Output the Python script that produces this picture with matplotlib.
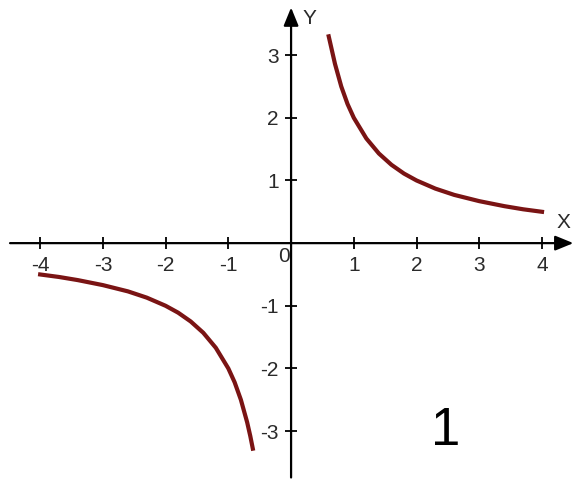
import matplotlib.pyplot as plt

x_right = [0.6, 0.65, 0.7, 0.8, 0.9, 1.0, 1.2, 1.4, 1.6, 1.8, 2.0, 2.3, 2.6, 3.0, 3.4, 3.7, 4.0]
y_right = [3.3, 3.08, 2.86, 2.5, 2.22, 2.0, 1.67, 1.43, 1.25, 1.11, 1.0, 0.87, 0.77, 0.67, 0.59, 0.54, 0.5]
x_left = [-4.0, -3.7, -3.4, -3.0, -2.6, -2.3, -2.0, -1.8, -1.6, -1.4, -1.2, -1.0, -0.9, -0.8, -0.7, -0.65, -0.61]
y_left = [-0.5, -0.54, -0.59, -0.67, -0.77, -0.87, -1.0, -1.11, -1.25, -1.43, -1.67, -2.0, -2.22, -2.5, -2.86, -3.08, -3.28]

x_ticks = [-4, -3, -2, -1, 1, 2, 3, 4]
y_ticks = [-3, -2, -1, 1, 2, 3]

fig = plt.figure(figsize=(5.74, 4.80), dpi=100)
ax = fig.add_axes([0, 0, 1, 1])
ax.set_xlim(-4.64, 4.51)
ax.set_ylim(-3.78, 3.88)
ax.axis('off')

font = 'Liberation Sans'
grey = '#2a2a2a'
arrow = dict(arrowstyle='-|>,head_length=1.1,head_width=0.45', color='black', lw=1.6, shrinkA=0, shrinkB=0)

# axes with arrow heads
ax.annotate('', xy=(4.50, 0), xytext=(-4.48, 0), arrowprops=arrow, annotation_clip=False)
ax.annotate('', xy=(0, 3.76), xytext=(0, -3.74), arrowprops=arrow, annotation_clip=False)

# tick marks
ax.plot(x_ticks, [0] * len(x_ticks), ls='none', marker='|', ms=9, mew=1.3, color='black')
ax.plot([0] * len(y_ticks), y_ticks, ls='none', marker='_', ms=9, mew=1.3, color='black')

for t in x_ticks:
    ax.text(t, -0.36, str(t), ha='center', va='center', fontsize=15, family=font, color=grey)
for t in y_ticks:
    ax.text(-0.2, t - 0.03, str(t), ha='right', va='center', fontsize=15, family=font, color=grey)
ax.text(-0.12, -0.21, '0', ha='center', va='center', fontsize=15, family=font, color=grey)

ax.text(4.35, 0.33, 'X', ha='center', va='center', fontsize=15, family=font, color=grey)
ax.text(0.3, 3.58, 'Y', ha='center', va='center', fontsize=15, family=font, color=grey)

ax.plot(x_right, y_right, color='#7a1414', lw=3)
ax.plot(x_left, y_left, color='#7a1414', lw=3)

ax.text(2.46, -3.0, '1', ha='center', va='center', fontsize=38, family=font, color='black')

fig.savefig('out.png', dpi=100)
